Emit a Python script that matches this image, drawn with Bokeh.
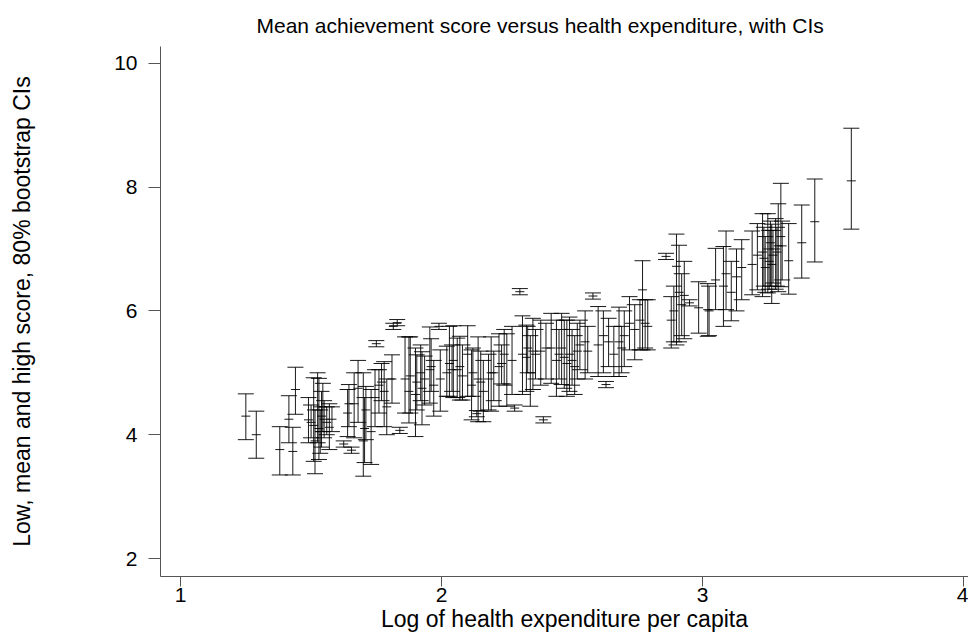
from bokeh.plotting import figure
from bokeh.models import ColumnDataSource, Whisker, TeeHead, Range1d, FixedTicker, Title
from bokeh.embed import file_html
from bokeh.resources import INLINE

# Log of health expenditure per capita
hx = [1.25, 1.29, 1.38, 1.415, 1.43, 1.44, 1.49, 1.50, 1.51, 1.515,
      1.525, 1.53, 1.535, 1.54, 1.545, 1.55, 1.56, 1.57, 1.58, 1.625,
      1.64, 1.645, 1.655, 1.665, 1.68, 1.70, 1.705, 1.71, 1.73, 1.745,
      1.75, 1.76, 1.77, 1.78, 1.79, 1.81, 1.815, 1.83, 1.84, 1.86,
      1.875, 1.88, 1.90, 1.905, 1.92, 1.925, 1.935, 1.955, 1.96, 1.97,
      1.99, 1.995, 2.02, 2.03, 2.04, 2.045, 2.06, 2.07, 2.08, 2.10,
      2.115, 2.12, 2.135, 2.14, 2.15, 2.16, 2.18, 2.19, 2.20, 2.22,
      2.23, 2.24, 2.25, 2.27, 2.28, 2.30, 2.31, 2.325, 2.33, 2.34,
      2.35, 2.36, 2.38, 2.39, 2.40, 2.42, 2.44, 2.45, 2.46, 2.47,
      2.48, 2.49, 2.50, 2.51, 2.52, 2.53, 2.55, 2.56, 2.58, 2.60,
      2.62, 2.63, 2.64, 2.66, 2.68, 2.69, 2.70, 2.72, 2.74, 2.76,
      2.77, 2.78, 2.79, 2.86, 2.88, 2.89, 2.90, 2.91, 2.92, 2.93,
      2.95, 2.985, 3.02, 3.025, 3.05, 3.08, 3.09, 3.11, 3.13, 3.15,
      3.19, 3.21, 3.23, 3.235, 3.24, 3.25, 3.255, 3.26, 3.265, 3.27,
      3.28, 3.285, 3.29, 3.30, 3.305, 3.33, 3.38, 3.43, 3.57]

low = [3.92, 3.62, 3.35, 3.87, 3.35, 4.33, 3.87, 3.95, 3.57, 3.37,
       3.87, 3.60, 3.70, 3.80, 4.05, 3.95, 4.00, 3.76, 4.05, 3.80,
       3.97, 4.13, 3.70, 3.95, 4.20, 3.33, 3.55, 3.92, 3.52, 4.13,
       5.42, 4.35, 4.55, 4.13, 4.00, 4.51, 5.70, 5.76, 4.02, 4.35,
       4.19, 4.35, 3.97, 4.40, 4.55, 4.16, 4.48, 4.51, 4.70, 4.30,
       5.70, 4.38, 4.62, 4.62, 4.70, 4.60, 4.60, 4.56, 4.56, 4.62,
       4.24, 4.62, 4.29, 4.21, 4.38, 4.21, 4.40, 4.38, 4.55, 4.46,
       4.82, 4.80, 4.46, 4.65, 4.38, 6.26, 4.65, 4.70, 5.00, 4.46,
       4.73, 4.90, 4.80, 4.19, 4.90, 4.83, 4.62, 4.90, 4.81, 4.75,
       4.62, 4.70, 4.80, 4.65, 4.90, 5.05, 4.90, 5.00, 6.19, 4.94,
       5.00, 4.76, 5.10, 4.94, 4.94, 5.00, 5.10, 5.37, 5.21, 5.37,
       5.37, 5.40, 5.37, 6.83, 5.40, 5.50, 5.45, 5.50, 5.60, 5.55,
       6.08, 5.64, 5.59, 5.60, 6.02, 5.75, 6.02, 5.84, 6.00, 6.18,
       6.26, 6.34, 6.23, 6.40, 6.30, 6.29, 6.35, 6.40, 6.12, 6.45,
       6.35, 6.40, 6.31, 6.39, 6.50, 6.27, 6.53, 6.79, 7.32]

mean = [4.30, 4.00, 3.76, 4.25, 3.73, 4.73, 4.24, 4.20, 4.15, 3.90,
        4.45, 4.10, 4.05, 4.30, 4.45, 4.25, 4.20, 4.12, 4.25, 3.85,
        4.35, 4.50, 3.75, 4.50, 4.75, 3.90, 4.10, 4.40, 4.05, 4.60,
        5.47, 4.80, 4.85, 4.70, 4.45, 4.90, 5.75, 5.81, 4.07, 4.90,
        4.70, 4.95, 4.65, 4.85, 5.00, 4.75, 4.90, 5.05, 5.10, 4.80,
        5.75, 4.90, 5.00, 5.15, 5.05, 5.20, 5.05, 5.10, 4.95, 5.30,
        4.80, 5.00, 4.34, 4.90, 4.85, 4.70, 4.90, 5.00, 5.00, 5.10,
        5.15, 5.30, 4.82, 5.20, 4.43, 6.31, 5.30, 5.25, 5.40, 5.00,
        5.35, 5.30, 5.35, 4.24, 5.40, 5.40, 5.20, 5.30, 5.40, 5.25,
        5.15, 5.30, 5.20, 5.10, 5.35, 5.45, 5.50, 5.35, 6.24, 5.45,
        5.60, 4.81, 5.50, 5.30, 5.50, 5.40, 5.60, 5.80, 5.70, 5.85,
        6.34, 5.80, 5.75, 6.88, 5.85, 6.00, 6.72, 6.30, 6.10, 6.25,
        6.13, 6.05, 6.02, 6.00, 6.50, 6.40, 6.60, 6.30, 6.55, 6.70,
        6.75, 6.90, 6.95, 6.85, 6.70, 7.00, 6.80, 7.10, 6.75, 6.90,
        7.00, 6.95, 7.05, 7.20, 7.05, 6.81, 7.10, 7.44, 8.10]

high = [4.66, 4.38, 4.13, 4.63, 4.12, 5.09, 4.60, 4.48, 4.92, 4.40,
        5.00, 4.91, 4.40, 4.70, 4.83, 4.55, 4.45, 4.50, 4.45, 3.90,
        4.73, 4.81, 3.80, 5.00, 5.20, 5.00, 4.60, 4.78, 4.73, 5.05,
        5.52, 5.05, 5.15, 5.18, 4.90, 5.29, 5.80, 5.86, 4.12, 5.58,
        5.58, 5.58, 5.40, 5.29, 5.45, 5.34, 5.27, 5.74, 5.55, 5.20,
        5.80, 5.37, 5.43, 5.75, 5.45, 5.76, 5.56, 5.59, 5.45, 5.76,
        5.37, 5.40, 4.39, 5.58, 5.35, 5.20, 5.30, 5.58, 5.35, 5.63,
        5.45, 5.70, 5.63, 5.75, 4.48, 6.36, 5.92, 5.77, 5.75, 5.60,
        5.88, 5.70, 5.85, 4.29, 5.80, 5.96, 5.85, 5.70, 5.96, 5.85,
        5.85, 5.90, 5.70, 5.60, 5.80, 5.85, 6.00, 5.75, 6.29, 6.07,
        6.00, 4.86, 5.88, 5.75, 6.06, 5.75, 6.00, 6.23, 6.10, 6.18,
        6.81, 6.18, 6.18, 6.93, 6.23, 6.40, 7.24, 7.06, 6.60, 6.80,
        6.18, 6.47, 6.44, 6.40, 7.01, 7.04, 7.29, 6.80, 7.00, 7.15,
        7.29, 7.41, 7.57, 7.35, 7.20, 7.57, 7.30, 7.45, 7.40, 7.30,
        7.49, 7.35, 7.73, 8.06, 7.45, 7.41, 7.71, 8.13, 8.95]

x_ticks = [1, 2, 3, 4]
y_ticks = [2, 4, 6, 8, 10]

FONT = "Liberation Sans"
src = ColumnDataSource(dict(x=hx, low=low, mean=mean, high=high))

p = figure(width=968, height=634, output_backend="svg", toolbar_location=None,
           x_range=Range1d(0.923, 4.019), y_range=Range1d(1.71, 10.27),
           min_border_left=160, min_border_top=46, min_border_bottom=10,
           min_border_right=0)
p.title = None
p.add_layout(Title(text="Mean achievement score versus health expenditure, with CIs",
                   align="left", offset=96, text_font=FONT, text_font_size="21px",
                   text_font_style="normal", text_color="black", standoff=20), "above")

p.outline_line_color = None
p.xgrid.visible = False
p.ygrid.visible = False
p.background_fill_color = "white"
p.border_fill_color = "white"

for ax in (p.xaxis[0], p.yaxis[0]):
    ax.axis_line_color = "#555555"
    ax.major_tick_line_color = "#555555"
    ax.minor_tick_line_color = None
    ax.major_tick_in = 0
    ax.major_label_text_font = FONT
    ax.major_label_text_font_size = "21px"
    ax.major_label_text_color = "black"
    ax.axis_label_text_font = FONT
    ax.axis_label_text_font_style = "normal"
    ax.axis_label_text_color = "black"
    ax.axis_label_text_font_size = "23px"

p.xaxis.ticker = FixedTicker(ticks=x_ticks)
p.yaxis.ticker = FixedTicker(ticks=y_ticks)
p.xaxis.major_tick_out = 10
p.yaxis.major_tick_out = 12
p.xaxis.major_label_standoff = 1
p.yaxis.major_label_standoff = 11
p.xaxis.axis_label = "Log of health expenditure per capita"
p.yaxis.axis_label = "Low, mean and high score, 80% bootstrap CIs"
p.xaxis.axis_label_standoff = 1
p.yaxis.axis_label_standoff = 76

w = Whisker(source=src, base="x", upper="high", lower="low", dimension="height",
            line_color="black", line_width=1, line_alpha=0.9,
            upper_head=TeeHead(size=16, line_color="black", line_width=1, line_alpha=0.9),
            lower_head=TeeHead(size=16, line_color="black", line_width=1, line_alpha=0.9))
p.add_layout(w)
p.scatter("x", "mean", source=src, marker="dash", size=9, line_color="black",
          line_width=1, line_alpha=0.9)

open("out.html", "w").write(file_html(p, INLINE))
